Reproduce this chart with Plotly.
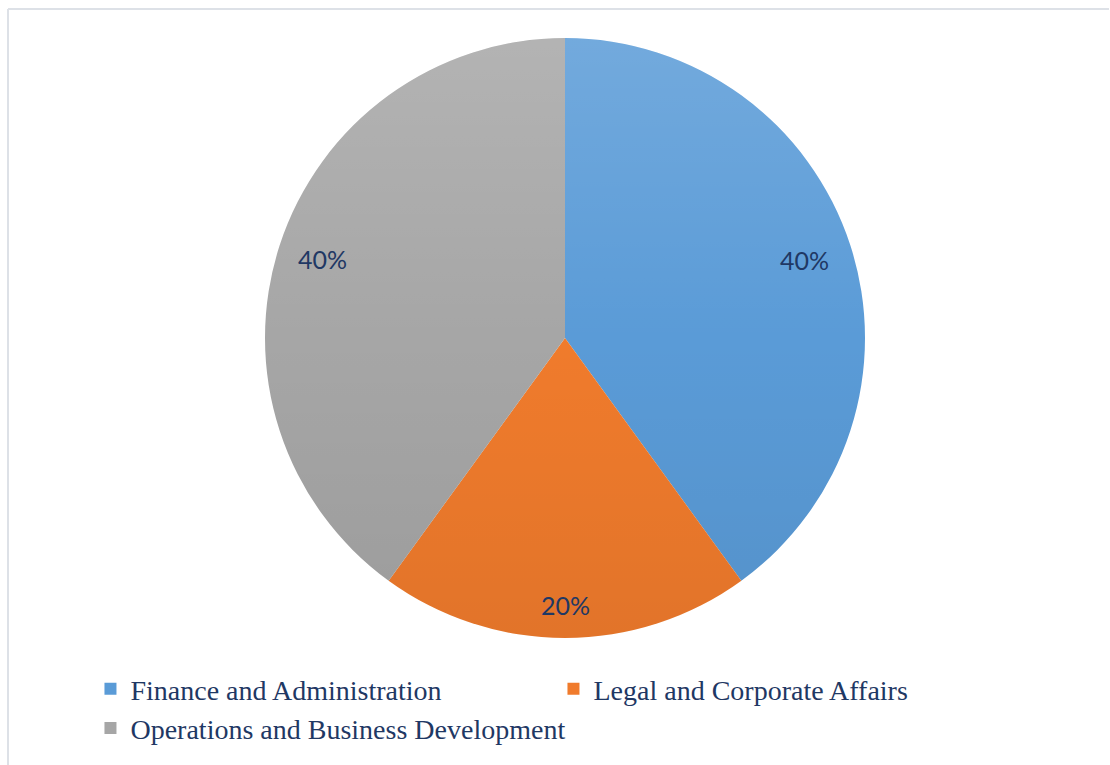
import base64
import math
import plotly.graph_objects as go

# Department share of staff
departments = [
    "Finance and Administration",
    "Legal and Corporate Affairs",
    "Operations and Business Development",
]
shares = [40, 20, 40]

slice_colors = ["#5A9BD7", "#F07B2C", "#A6A6A6"]
label_radius = [0.84, 0.89, 0.85]  # radial placement of the % labels
navy = "#1F3864"

W, H = 1110, 765
cx, cy, R = 565, 338, 300  # pie centre and radius in px

dom_x = [(cx - R) / W, (cx + R) / W]
dom_y = [1 - (cy + R) / H, 1 - (cy - R) / H]

fig = go.Figure(
    go.Pie(
        labels=departments,
        values=shares,
        sort=False,
        direction="clockwise",
        rotation=0,
        marker=dict(colors=slice_colors, line=dict(width=0)),
        textinfo="none",
        hoverinfo="label+percent",
        domain=dict(x=dom_x, y=dom_y),
    )
)

# percentage labels placed along each slice's mid-angle
total = sum(shares)
cum = 0
annotations = []
for v, rf in zip(shares, label_radius):
    theta = 2 * math.pi * (cum + v / 2) / total
    px = cx + rf * R * math.sin(theta)
    py = cy - rf * R * math.cos(theta)
    annotations.append(
        dict(
            x=px / W, y=1 - py / H, xref="paper", yref="paper",
            text=f"{round(100 * v / total)}%", showarrow=False,
            font=dict(family="Lato, Open Sans, sans-serif", size=25, color=navy),
            xanchor="center", yanchor="middle",
        )
    )
    cum += v

# soft vertical shading over the pie (lighter top, slightly darker bottom)
svg = (
    "<svg xmlns='http://www.w3.org/2000/svg' width='600' height='600' viewBox='0 0 600 600'>"
    "<defs><linearGradient id='g' x1='0' y1='0' x2='0' y2='1'>"
    "<stop offset='0' stop-color='#ffffff' stop-opacity='0.15'/>"
    "<stop offset='0.5' stop-color='#ffffff' stop-opacity='0'/>"
    "<stop offset='0.5' stop-color='#000000' stop-opacity='0'/>"
    "<stop offset='1' stop-color='#000000' stop-opacity='0.06'/>"
    "</linearGradient></defs>"
    "<circle cx='300' cy='300' r='300' fill='url(#g)'/></svg>"
)
shade_src = "data:image/svg+xml;base64," + base64.b64encode(svg.encode()).decode()

fig.update_layout(
    width=W,
    height=H,
    margin=dict(l=0, r=0, t=0, b=0),
    paper_bgcolor="white",
    plot_bgcolor="white",
    annotations=annotations,
    images=[
        dict(
            source=shade_src, xref="paper", yref="paper",
            x=dom_x[0], y=dom_y[1], sizex=dom_x[1] - dom_x[0], sizey=dom_y[1] - dom_y[0],
            xanchor="left", yanchor="top", sizing="stretch", layer="above",
        )
    ],
    shapes=[
        dict(type="line", xref="paper", yref="paper", x0=8 / W, x1=1109 / W,
             y0=1 - 9 / H, y1=1 - 9 / H, line=dict(color="#DDE1E7", width=2)),
        dict(type="line", xref="paper", yref="paper", x0=8 / W, x1=8 / W,
             y0=1 - 9 / H, y1=0, line=dict(color="#DDE1E7", width=2)),
    ],
    legend=dict(
        orientation="h",
        x=0.0815,
        y=1 - 664 / H,
        xanchor="left",
        yanchor="top",
        entrywidth=418,
        entrywidthmode="pixels",
        font=dict(family="Liberation Serif, Times New Roman, serif", size=28, color=navy),
        bgcolor="rgba(0,0,0,0)",
    ),
    showlegend=True,
)

fig.write_html("out.html")
